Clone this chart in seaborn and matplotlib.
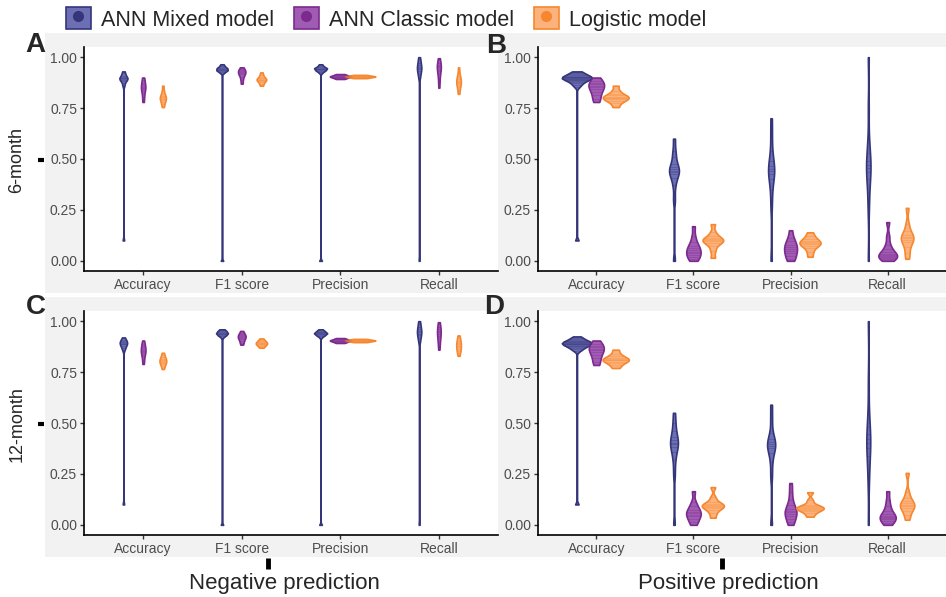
import numpy as np
import pandas as pd
import matplotlib
matplotlib.use("Agg")
import matplotlib.pyplot as plt
import seaborn as sns
from matplotlib.patches import Rectangle, Patch
from matplotlib.lines import Line2D
from matplotlib.collections import PolyCollection, LineCollection
from matplotlib.colors import to_hex

# ---------------- data ----------------
METRICS = ["Accuracy", "F1 score", "Precision", "Recall"]
MODELS = ["ANN Mixed model", "ANN Classic model", "Logistic model"]
ROW_LABELS = ["6-month", "12-month"]
COL_LABELS = ["Negative prediction", "Positive prediction"]
PANEL_LETTERS = ["A", "B", "C", "D"]
Y_TICKS = [0.0, 0.25, 0.50, 0.75, 1.00]

# each list: [Accuracy, F1 score, Precision, Recall] samples
NEG6_MIXED = [
    [0.10, 0.86, 0.875, 0.885, 0.89, 0.893, 0.896, 0.899, 0.903, 0.91, 0.92, 0.93],
    [0.0, 0.925, 0.93, 0.935, 0.938, 0.94, 0.942, 0.945, 0.95, 0.955, 0.965],
    [0.0, 0.925, 0.932, 0.937, 0.94, 0.942, 0.944, 0.946, 0.95, 0.955, 0.965],
    [0.0, 0.90, 0.915, 0.93, 0.94, 0.945, 0.95, 0.96, 0.97, 0.985, 1.0],
]
NEG6_CLASSIC = [
    [0.78, 0.80, 0.82, 0.835, 0.845, 0.85, 0.855, 0.865, 0.875, 0.89, 0.90],
    [0.87, 0.89, 0.905, 0.915, 0.92, 0.925, 0.93, 0.935, 0.94, 0.95],
    [0.893, 0.896, 0.899, 0.902, 0.904, 0.905, 0.906, 0.908, 0.911, 0.914, 0.917],
    [0.85, 0.88, 0.90, 0.92, 0.93, 0.94, 0.95, 0.955, 0.96, 0.97, 0.985, 0.995],
]
NEG6_LOGISTIC = [
    [0.755, 0.77, 0.78, 0.79, 0.795, 0.80, 0.805, 0.81, 0.82, 0.835, 0.86],
    [0.86, 0.87, 0.878, 0.884, 0.888, 0.89, 0.893, 0.897, 0.903, 0.912, 0.925],
    [0.897, 0.899, 0.901, 0.903, 0.904, 0.905, 0.906, 0.907, 0.909, 0.911, 0.913],
    [0.82, 0.84, 0.855, 0.865, 0.875, 0.88, 0.885, 0.895, 0.905, 0.92, 0.95],
]

POS6_MIXED = [
    [0.10, 0.855, 0.865, 0.872, 0.878, 0.883, 0.887, 0.89, 0.893, 0.895, 0.897, 0.899,
     0.901, 0.903, 0.905, 0.908, 0.911, 0.915, 0.92, 0.925, 0.93],
    [0.0, 0.30, 0.37, 0.405, 0.425, 0.435, 0.44, 0.45, 0.46, 0.475, 0.51, 0.54, 0.60],
    [0.0, 0.27, 0.35, 0.40, 0.425, 0.44, 0.45, 0.465, 0.49, 0.54, 0.62, 0.70],
    [0.0, 0.25, 0.34, 0.40, 0.435, 0.455, 0.47, 0.49, 0.53, 0.59, 0.75, 1.0],
]
POS6_CLASSIC = [
    [0.78, 0.795, 0.815, 0.83, 0.843, 0.853, 0.86, 0.867, 0.875, 0.885, 0.90],
    [0.0, 0.01, 0.02, 0.03, 0.04, 0.045, 0.055, 0.065, 0.075, 0.09, 0.12, 0.17],
    [0.0, 0.01, 0.025, 0.04, 0.05, 0.06, 0.07, 0.08, 0.095, 0.11, 0.15],
    [0.0, 0.01, 0.015, 0.02, 0.025, 0.03, 0.035, 0.045, 0.06, 0.08, 0.12, 0.19],
]
POS6_LOGISTIC = [
    [0.755, 0.775, 0.785, 0.793, 0.798, 0.802, 0.806, 0.812, 0.82, 0.835, 0.86],
    [0.015, 0.05, 0.075, 0.088, 0.095, 0.10, 0.105, 0.11, 0.12, 0.14, 0.18],
    [0.02, 0.045, 0.065, 0.075, 0.082, 0.087, 0.092, 0.098, 0.108, 0.12, 0.14],
    [0.01, 0.04, 0.07, 0.092, 0.103, 0.11, 0.118, 0.128, 0.145, 0.18, 0.26],
]

NEG12_MIXED = [
    [0.10, 0.86, 0.87, 0.88, 0.886, 0.89, 0.894, 0.898, 0.903, 0.91, 0.92],
    [0.0, 0.925, 0.93, 0.935, 0.938, 0.94, 0.943, 0.946, 0.95, 0.955, 0.96],
    [0.0, 0.925, 0.93, 0.935, 0.938, 0.94, 0.942, 0.945, 0.948, 0.953, 0.96],
    [0.0, 0.90, 0.915, 0.93, 0.938, 0.945, 0.952, 0.96, 0.97, 0.985, 1.0],
]
NEG12_CLASSIC = [
    [0.79, 0.81, 0.83, 0.84, 0.85, 0.855, 0.86, 0.87, 0.88, 0.89, 0.905],
    [0.885, 0.895, 0.905, 0.912, 0.918, 0.922, 0.926, 0.93, 0.935, 0.942, 0.952],
    [0.893, 0.896, 0.899, 0.902, 0.904, 0.905, 0.906, 0.908, 0.911, 0.914, 0.917],
    [0.86, 0.88, 0.90, 0.915, 0.925, 0.935, 0.945, 0.952, 0.96, 0.97, 0.985, 0.995],
]
NEG12_LOGISTIC = [
    [0.765, 0.78, 0.788, 0.795, 0.80, 0.805, 0.81, 0.815, 0.822, 0.832, 0.845],
    [0.87, 0.877, 0.882, 0.886, 0.889, 0.892, 0.895, 0.898, 0.902, 0.908, 0.915],
    [0.897, 0.899, 0.901, 0.903, 0.904, 0.905, 0.906, 0.907, 0.909, 0.911, 0.913],
    [0.83, 0.845, 0.855, 0.865, 0.873, 0.88, 0.887, 0.895, 0.905, 0.915, 0.93],
]

POS12_MIXED = [
    [0.10, 0.855, 0.862, 0.868, 0.873, 0.877, 0.88, 0.883, 0.886, 0.888, 0.89, 0.892,
     0.894, 0.896, 0.898, 0.901, 0.904, 0.908, 0.913, 0.918, 0.925],
    [0.0, 0.25, 0.32, 0.36, 0.383, 0.395, 0.403, 0.415, 0.43, 0.46, 0.50, 0.55],
    [0.0, 0.24, 0.31, 0.355, 0.375, 0.387, 0.395, 0.405, 0.42, 0.45, 0.52, 0.59],
    [0.0, 0.20, 0.28, 0.34, 0.375, 0.40, 0.42, 0.445, 0.48, 0.55, 0.70, 1.0],
]
POS12_CLASSIC = [
    [0.785, 0.80, 0.82, 0.835, 0.848, 0.857, 0.865, 0.872, 0.88, 0.89, 0.905],
    [0.0, 0.015, 0.03, 0.042, 0.05, 0.058, 0.065, 0.075, 0.09, 0.11, 0.165],
    [0.0, 0.015, 0.03, 0.045, 0.055, 0.062, 0.07, 0.08, 0.095, 0.12, 0.16, 0.205],
    [0.0, 0.01, 0.02, 0.03, 0.035, 0.04, 0.045, 0.055, 0.07, 0.09, 0.12, 0.165],
]
POS12_LOGISTIC = [
    [0.77, 0.785, 0.795, 0.802, 0.807, 0.811, 0.815, 0.82, 0.828, 0.84, 0.86],
    [0.035, 0.058, 0.074, 0.083, 0.089, 0.093, 0.098, 0.104, 0.113, 0.135, 0.185],
    [0.04, 0.057, 0.067, 0.074, 0.079, 0.082, 0.086, 0.091, 0.099, 0.12, 0.16],
    [0.025, 0.05, 0.07, 0.082, 0.09, 0.097, 0.105, 0.115, 0.13, 0.16, 0.255],
]

PANELS = [
    (NEG6_MIXED, NEG6_CLASSIC, NEG6_LOGISTIC),
    (POS6_MIXED, POS6_CLASSIC, POS6_LOGISTIC),
    (NEG12_MIXED, NEG12_CLASSIC, NEG12_LOGISTIC),
    (POS12_MIXED, POS12_CLASSIC, POS12_LOGISTIC),
]

# ---------------- style ----------------
FILL = ["#6d6fb4", "#a05cb3", "#fbb27c"]
EDGE = ["#35367a", "#7c2a8d", "#f6872f"]
DODGE = 0.2
BG = "#f2f2f2"

sns.set_theme(style="white")
plt.rcParams["font.family"] = ["Liberation Sans", "DejaVu Sans"]

W, H = 946, 597
fig = plt.figure(figsize=(W / 100, H / 100), dpi=100)
fig.patch.set_facecolor("white")


def fx(px):
    return px / W


def fy(py):
    return 1 - py / H


def rect(x0, y0, x1, y1):
    return [x0 / W, 1 - y1 / H, (x1 - x0) / W, (y1 - y0) / H]


def nrd0(kde):
    x = np.asarray(kde.dataset).ravel()
    n = x.size
    sd = x.std(ddof=1)
    q75, q25 = np.percentile(x, [75, 25])
    lo = min(sd, (q75 - q25) / 1.34)
    if lo <= 0:
        lo = sd
    h = 0.9 * lo * n ** (-0.2)
    return h / sd


# grey row backgrounds
for (y0, y1) in [(33, 293), (297, 557)]:
    fig.patches.append(Rectangle((fx(45), fy(y1)), fx(946) - fx(45), fy(y0) - fy(y1),
                                 transform=fig.transFigure, facecolor=BG,
                                 edgecolor="none", zorder=-5))

AX_RECTS = [(84, 47, 498, 271), (538, 47, 946, 271),
            (84, 311, 498, 535), (538, 311, 946, 535)]

fill_to_edge = {to_hex(f): e for f, e in zip(FILL, EDGE)}

for p, (arrays, r) in enumerate(zip(PANELS, AX_RECTS)):
    ax = fig.add_axes(rect(*r))
    ax.set_facecolor("white")
    rows = []
    for m_i, model in enumerate(MODELS):
        for k in range(len(METRICS)):
            for v in arrays[m_i][k]:
                rows.append((k + (m_i - 1) * DODGE, model, v))
    df = pd.DataFrame(rows, columns=["pos", "model", "value"])
    sns.violinplot(data=df, x="pos", y="value", hue="model", hue_order=MODELS,
                   palette=FILL, native_scale=True, dodge=False, width=1.55,
                   cut=0, density_norm="area", common_norm=True, bw_method=nrd0,
                   inner="stick", inner_kws=dict(linewidth=0.45), linewidth=1.2,
                   saturation=1, legend=False, ax=ax)
    cur = EDGE[0]
    for coll in ax.collections:
        if isinstance(coll, LineCollection):
            coll.set_color(cur)
            coll.set_alpha(0.5)
        elif isinstance(coll, PolyCollection):
            fc = to_hex(coll.get_facecolor()[0][:3])
            cur = fill_to_edge.get(fc, cur)
            coll.set_edgecolor(cur)
            coll.set_linewidth(1.2)
    ax.set_xlim(-0.6, 3.6)
    ax.set_ylim(-0.05, 1.05)
    ax.set_xticks(range(len(METRICS)))
    ax.set_xticklabels(METRICS)
    ax.set_yticks(Y_TICKS)
    ax.set_yticklabels([f"{v:.2f}" for v in Y_TICKS])
    ax.set_xlabel("")
    ax.set_ylabel("")
    for s in ["top", "right"]:
        ax.spines[s].set_visible(False)
    for s in ["left", "bottom"]:
        ax.spines[s].set_color("black")
        ax.spines[s].set_linewidth(1.2)
    ax.tick_params(axis="both", length=3, width=1.0, color="#333333",
                   labelsize=10, labelcolor="#4d4d4d", pad=2, left=True, bottom=True)

# panel letters
for letter, (x, y) in zip(PANEL_LETTERS, [(35, 45), (496, 46), (36, 307), (494, 307)]):
    fig.text(fx(x), fy(y), letter, fontsize=20, fontweight="bold", ha="center", va="center")

# row labels with the small outer tick marks
for lab, y in zip(ROW_LABELS, [160, 424]):
    fig.text(fx(17), fy(y), lab, rotation=90, fontsize=13, ha="center", va="center")
    fig.add_artist(Line2D([fx(38), fx(44)], [fy(y), fy(y)], color="black", lw=3,
                          solid_capstyle="butt"))

# column labels
for lab, x, tx in zip(COL_LABELS, [284, 728], [268, 722]):
    fig.text(fx(x), fy(584), lab, fontsize=16, ha="center", va="center")
    fig.add_artist(Line2D([fx(tx), fx(tx)], [fy(558), fy(569)], color="black", lw=3.5,
                          solid_capstyle="butt"))

# legend
handles = [(Patch(facecolor=f, edgecolor=e, linewidth=1.2),
            Line2D([], [], marker="o", linestyle="", color=e, markersize=7))
           for f, e in zip(FILL, EDGE)]
fig.legend(handles, MODELS, loc="center", bbox_to_anchor=(fx(386), fy(19)), ncol=3,
           frameon=False, fontsize=15.5, handlelength=1.2, handleheight=1.2,
           handletextpad=0.45, columnspacing=0.9, borderpad=0, borderaxespad=0)

fig.savefig("out.png", dpi=100)
